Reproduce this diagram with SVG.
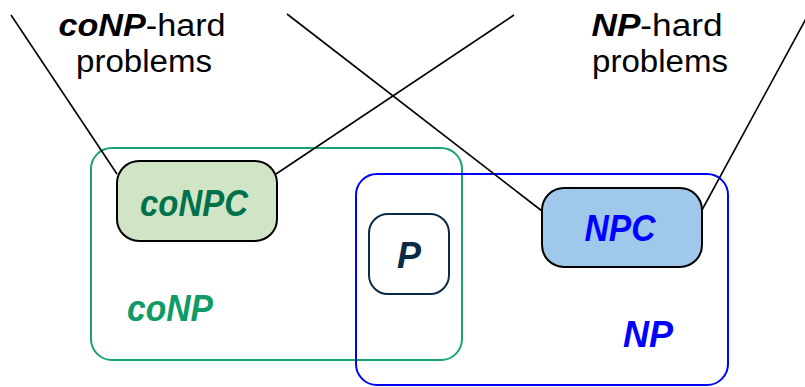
<svg xmlns="http://www.w3.org/2000/svg" width="805" height="387" viewBox="0 0 805 387">
<style>
text{font-family:"Liberation Sans",Arial,sans-serif;}
.lbl{font-size:36px;font-weight:bold;font-style:italic;text-anchor:middle;}
.hdr{font-size:31px;fill:#000;text-anchor:middle;}
.b{font-weight:bold;font-style:italic;}
.conn{stroke:#000;stroke-width:1.6;fill:none;}
.node{stroke:#000;stroke-width:2;}
</style>
<rect width="805" height="387" fill="#fff"/>
<g id="coNP">
<rect x="91" y="148" width="371" height="212" rx="21" fill="none" stroke="#16a56f" stroke-width="2"/>
<text class="lbl" x="170" y="321" fill="#0f9b65" textLength="86" lengthAdjust="spacingAndGlyphs">coNP</text>
</g>
<g id="NP">
<rect x="356" y="174" width="372" height="211" rx="21" fill="none" stroke="#0000ff" stroke-width="2"/>
<text class="lbl" x="648" y="347" fill="#0000ff" textLength="50" lengthAdjust="spacingAndGlyphs">NP</text>
</g>
<g id="coNPC">
<rect class="node" x="117" y="161" width="160" height="80" rx="22" fill="#cfe5c5"/>
<text class="lbl" x="194" y="216" fill="#00714a" textLength="108" lengthAdjust="spacingAndGlyphs">coNPC</text>
</g>
<g id="P">
<rect x="369" y="214" width="80" height="80" rx="19" fill="#fff" stroke="#0b2a45" stroke-width="2"/>
<text class="lbl" x="409" y="268" fill="#0b2a45" textLength="24" lengthAdjust="spacingAndGlyphs">P</text>
</g>
<g id="NPC">
<rect class="node" x="542" y="188" width="160" height="79" rx="22" fill="#9fc8ea"/>
<text class="lbl" x="620" y="241" fill="#0000ff" textLength="71" lengthAdjust="spacingAndGlyphs">NPC</text>
</g>
<g id="coNPhard">
<text class="hdr" x="142" y="36" textLength="167" lengthAdjust="spacingAndGlyphs"><tspan class="b">coNP</tspan>-hard</text>
<text class="hdr" x="144" y="72" textLength="136" lengthAdjust="spacingAndGlyphs">problems</text>
</g>
<g id="NPhard">
<text class="hdr" x="657" y="36" textLength="131" lengthAdjust="spacingAndGlyphs"><tspan class="b">NP</tspan>-hard</text>
<text class="hdr" x="660" y="72" textLength="136" lengthAdjust="spacingAndGlyphs">problems</text>
</g>
<g id="connectors">
<line class="conn" x1="11" y1="15" x2="117" y2="174"/>
<line class="conn" x1="514" y1="15" x2="276" y2="174"/>
<line class="conn" x1="287" y1="14" x2="542" y2="211"/>
<line class="conn" x1="808" y1="15" x2="702" y2="210"/>
</g>
</svg>
